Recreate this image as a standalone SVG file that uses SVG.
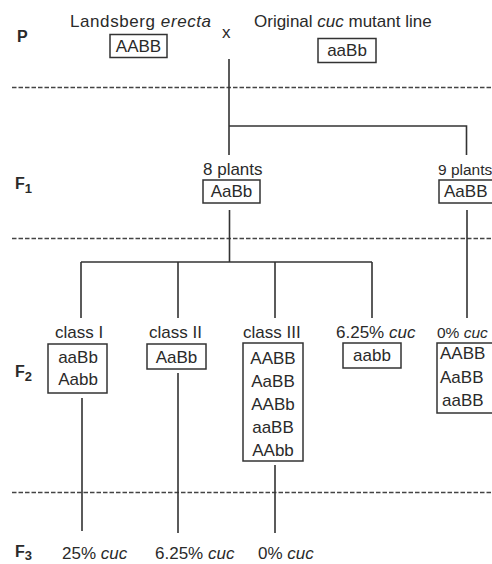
<svg xmlns="http://www.w3.org/2000/svg" width="492" height="564" viewBox="0 0 492 564">
<style>
text{font-family:"Liberation Sans",Arial,Helvetica,sans-serif;font-size:17px;fill:#2a2a2a}
.i{font-style:italic}
.gen{font-weight:bold;font-size:16px}
.sub{font-size:13px}
.edge{font-size:15.5px}
.box{fill:none;stroke:#333;stroke-width:1.5}
.ln{fill:none;stroke:#333;stroke-width:1.6}
.dash{fill:none;stroke:#444;stroke-width:1.4;stroke-dasharray:4.5 2}
</style>
<rect width="492" height="564" fill="#fff"/>
<g id="separators">
<line class="dash" x1="12" y1="87.5" x2="492" y2="87.5"/>
<line class="dash" x1="12" y1="238.5" x2="492" y2="238.5"/>
<line class="dash" x1="12" y1="492.5" x2="492" y2="492.5"/>
</g>
<g id="generation-labels">
<text class="gen" x="17" y="42">P</text>
<text class="gen" x="15" y="189">F<tspan class="sub" dy="4">1</tspan></text>
<text class="gen" x="15" y="377">F<tspan class="sub" dy="4">2</tspan></text>
<text class="gen" x="15" y="557">F<tspan class="sub" dy="3">3</tspan></text>
</g>
<g id="connectors">
<path class="ln" d="M229 59V155M229 126H466.5V155"/>
<path class="ln" d="M229.5 210V262M81 262H372M81 262V318M178 262V318M275 262V318M372 262V318"/>
<path class="ln" d="M467 210V318"/>
<path class="ln" d="M82 398V531M178 373V533M275 465V533"/>
</g>
<g id="p-landsberg">
<text x="70" y="27" textLength="141" lengthAdjust="spacing">Landsberg <tspan class="i">erecta</tspan></text>
<rect class="box" x="110" y="34.5" width="57" height="23"/>
<text x="138.5" y="52" text-anchor="middle">AABB</text>
</g>
<text id="cross" x="222" y="38">x</text>
<g id="p-cuc">
<text x="254" y="27">Original <tspan class="i">cuc</tspan> mutant line</text>
<rect class="box" x="318" y="38.5" width="58" height="24"/>
<text x="347" y="56" text-anchor="middle">aaBb</text>
</g>
<g id="f1-8plants">
<text x="203" y="175">8 plants</text>
<rect class="box" x="203" y="180" width="57" height="23"/>
<text x="231.5" y="197" text-anchor="middle">AaBb</text>
</g>
<g id="f1-9plants">
<text class="edge" x="438" y="175">9 plants</text>
<rect class="box" x="439" y="180" width="60" height="23"/>
<text x="444" y="197">AaBB</text>
</g>
<g id="f2-class1">
<text x="55" y="338">class I</text>
<rect class="box" x="48" y="344" width="59" height="49"/>
<text x="78" y="363" text-anchor="middle">aaBb</text>
<text x="78" y="385" text-anchor="middle">Aabb</text>
</g>
<g id="f2-class2">
<text x="149" y="338">class II</text>
<rect class="box" x="147" y="344" width="59" height="25"/>
<text x="176.5" y="363" text-anchor="middle">AaBb</text>
</g>
<g id="f2-class3">
<text x="243" y="338">class III</text>
<rect class="box" x="243" y="343" width="60" height="118"/>
<text x="273" y="364" text-anchor="middle">AABB</text>
<text x="273" y="387" text-anchor="middle">AaBB</text>
<text x="273" y="410" text-anchor="middle">AABb</text>
<text x="273" y="433" text-anchor="middle">aaBB</text>
<text x="273" y="456" text-anchor="middle">AAbb</text>
</g>
<g id="f2-aabb">
<text x="336" y="338">6.25% <tspan class="i">cuc</tspan></text>
<rect class="box" x="343" y="343" width="58" height="25"/>
<text x="372" y="361" text-anchor="middle">aabb</text>
</g>
<g id="f2-zero">
<text class="edge" x="437" y="338">0% <tspan class="i">cuc</tspan></text>
<rect class="box" x="437" y="343" width="60" height="70"/>
<text x="440" y="359">AABB</text>
<text x="440" y="383">AaBB</text>
<text x="442" y="406">aaBB</text>
</g>
<g id="f3-results">
<text x="62" y="559">25% <tspan class="i">cuc</tspan></text>
<text x="155" y="559">6.25% <tspan class="i">cuc</tspan></text>
<text x="258" y="559">0% <tspan class="i">cuc</tspan></text>
</g>
</svg>
